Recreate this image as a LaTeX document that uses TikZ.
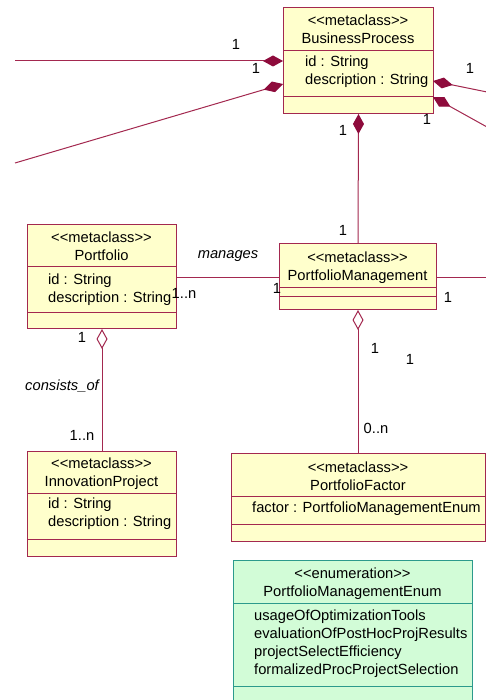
\documentclass[tikz,border=0pt]{standalone}
\usepackage{fontspec}
\setmainfont{Liberation Sans}[Ligatures=TeXOff]
\usetikzlibrary{arrows.meta,calc}
\definecolor{bord}{HTML}{A3284F}
\definecolor{dmd}{HTML}{8E0B3C}
\definecolor{yel}{HTML}{FFFFCC}
\definecolor{grn}{HTML}{D2FCD7}
\definecolor{teal2}{HTML}{2C9A8C}
\begin{document}
\begin{tikzpicture}[x=1pt,y=-1pt,
  font=\fontsize{14.7}{17}\selectfont,
  cls/.style={draw=bord,fill=yel,line width=1pt,anchor=north west,inner sep=0pt},
  enm/.style={draw=teal2,fill=grn,line width=1pt,anchor=north west,inner sep=0pt},
  ttl/.style={anchor=base,inner sep=0pt},
  att/.style={anchor=base west,inner sep=0pt},
  lbl/.style={inner sep=0pt,anchor=center},
  conn/.style={draw=bord,line width=1pt},
  comp/.style={conn,-{Diamond[length=20pt,width=11pt,fill=dmd,color=dmd]}},
  aggr/.style={conn,-{Diamond[length=20pt,width=11pt,fill=white,color=bord,line width=1pt]}}
]
\useasboundingbox (0,0) rectangle (486,700);
\fill[white] (0,0) rectangle (486,700);

% BusinessProcess
\node[cls,minimum width=150pt,minimum height=106pt] (bp) at (283,7) {};
\draw[bord,line width=1pt] (283,51) -- (433,51) (283,97) -- (433,97);
\node[ttl] (bp1) at (358,26) {<<metaclass>>};
\node[ttl] (bp2) at (358,44) {BusinessProcess};
\node[att] (bp3) at (305,67) {id : String};
\node[att] (bp4) at (305,85) {description : String};

% Portfolio
\node[cls,minimum width=149pt,minimum height=104pt] (pf) at (27,224) {};
\draw[bord,line width=1pt] (27,266) -- (176,266) (27,312) -- (176,312);
\node[ttl] (pf1) at (101.5,243) {<<metaclass>>};
\node[ttl] (pf2) at (101.5,261) {Portfolio};
\node[att] (pf3) at (48,284) {id : String};
\node[att] (pf4) at (48,302) {description : String};

% PortfolioManagement
\node[cls,minimum width=157pt,minimum height=66pt] (pm) at (279,243) {};
\draw[bord,line width=1pt] (279,287) -- (436,287) (279,296) -- (436,296);
\node[ttl] (pm1) at (357.5,262) {<<metaclass>>};
\node[ttl] (pm2) at (357.5,280) {PortfolioManagement};

% InnovationProject
\node[cls,minimum width=149pt,minimum height=105pt] (ip) at (27,451) {};
\draw[bord,line width=1pt] (27,493) -- (176,493) (27,539) -- (176,539);
\node[ttl] (ip1) at (101.5,468) {<<metaclass>>};
\node[ttl] (ip2) at (101.5,486) {InnovationProject};
\node[att] (ip3) at (48,508) {id : String};
\node[att] (ip4) at (48,526) {description : String};

% PortfolioFactor
\node[cls,minimum width=254pt,minimum height=88pt] (fc) at (231,453) {};
\draw[bord,line width=1pt] (231,496) -- (485,496) (231,524) -- (485,524);
\node[ttl] (fc1) at (358,472) {<<metaclass>>};
\node[ttl] (fc2) at (358,490) {PortfolioFactor};
\node[att] (fc3) at (252,512) {factor : PortfolioManagementEnum};

% Enumeration
\node[enm,minimum width=239pt,minimum height=145pt] (en) at (233,560) {};
\draw[teal2,line width=1pt] (233,603) -- (472,603) (233,686) -- (472,686);
\node[ttl] (en1) at (352.5,578) {<<enumeration>>};
\node[ttl] (en2) at (352.5,596) {PortfolioManagementEnum};
\node[att] (en3) at (254,620) {usageOfOptimizationTools};
\node[att] (en4) at (254,638) {evaluationOfPostHocProjResults};
\node[att] (en5) at (254,656) {projectSelectEfficiency};
\node[att] (en6) at (254,674) {formalizedProcProjectSelection};

% free ends
\coordinate (l1) at (15,61);
\coordinate (l1e) at (283,61);
\coordinate (l2) at (15,163);
\coordinate (l2e) at (283,84);
\coordinate (r1) at (487,92);
\coordinate (r1e) at (433,81);
\coordinate (r2) at (487,127);
\coordinate (r2e) at (433,97);
\coordinate (pmr) at (487,277);

% connectors
\draw[comp] (l1) -- (l1e);
\draw[comp] (l2) -- (l2e);
\draw[comp] (r1) -- (r1e);
\draw[comp] (r2) -- (r2e);
\draw[comp] (pm.north) -- (bp.south);
\draw[conn] (pf.east |- 0,277) -- (pm.west |- 0,277);
\draw[conn] (pm.east |- 0,277) -- (pmr);
\draw[aggr] (ip.north -| 102,0) -- (pf.south -| 102,0);
\draw[aggr] (fc.north -| 358,0) -- (pm.south -| 358,0);

% labels
\node[lbl] (t1) at (236,44) {1};
\node[lbl] (t2) at (256,68) {1};
\node[lbl] (t3) at (470,68) {1};
\node[lbl] (t4) at (427,119) {1};
\node[lbl] (t5) at (343,130) {1};
\node[lbl] (t6) at (343,230) {1};
\node[lbl,font=\fontsize{14.7}{17}\selectfont\itshape] (t7) at (228,256) {manages};
\node[lbl] (t8) at (184,293) {1..n};
\node[lbl] (t9) at (277,288) {1};
\node[lbl] (t10) at (448,297) {1};
\node[lbl] (t11) at (82,337) {1};
\node[lbl,font=\fontsize{14.7}{17}\selectfont\itshape] (t12) at (62,386) {consists\_of};
\node[lbl] (t13) at (82,435) {1..n};
\node[lbl] (t14) at (375,348) {1};
\node[lbl] (t15) at (410,359) {1};
\node[lbl] (t16) at (376,428) {0..n};
\end{tikzpicture}
\end{document}
